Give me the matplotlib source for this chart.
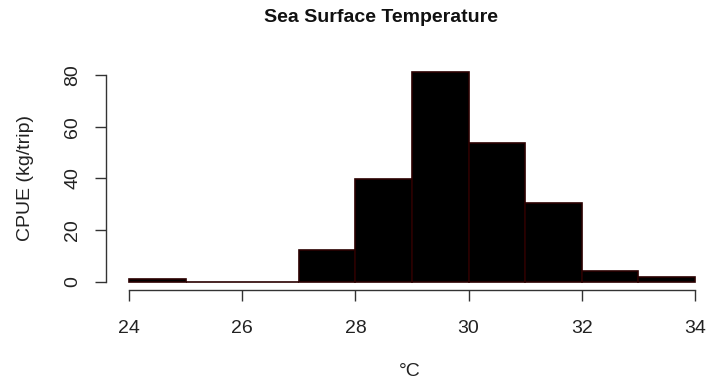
import numpy as np
import matplotlib
matplotlib.use("Agg")
import matplotlib.pyplot as plt

plt.rcParams['font.family'] = ['Liberation Sans', 'DejaVu Sans']

# histogram bins (deg C) and CPUE values
bin_edges = [24, 25, 26, 27, 28, 29, 30, 31, 32, 33, 34]
cpue = [1, 0, 0, 12.3, 39.8, 81, 53.7, 30.5, 4.2, 2]
x_ticks = [24, 26, 28, 30, 32, 34]
y_ticks = [0, 20, 40, 60, 80]

W, H = 706, 385
fig = plt.figure(figsize=(W / 100, H / 100), dpi=100)
# plot region in pixels: left 106, right 718, top 64, bottom 290
ax = fig.add_axes([106.4 / W, (H - 290.4) / H, 611.2 / W, 226.4 / H])

left = np.array(bin_edges[:-1])
widths = np.diff(bin_edges)
ax.bar(left, cpue, width=widths, align='edge', color='black',
       edgecolor='#2a0000', linewidth=1.2)

ax.set_xlim(23.6, 34.4)
ax.set_ylim(-3.24, 84.24)

for s in ['top', 'right']:
    ax.spines[s].set_visible(False)
ax.spines['bottom'].set_bounds(24, 34)
ax.spines['left'].set_bounds(0, 80)
for s in ['bottom', 'left']:
    ax.spines[s].set_color('#333333')
    ax.spines[s].set_linewidth(1.0)
ax.spines['bottom'].set_position(('outward', 0))

ax.set_xticks(x_ticks)
ax.set_yticks(y_ticks)
ax.tick_params(axis='x', length=8, width=1, color='#333333', pad=13,
               labelsize=14, labelcolor='#222222')
ax.tick_params(axis='y', length=8, width=1, color='#333333', pad=10,
               labelsize=14, labelcolor='#222222')
for lab in ax.get_yticklabels():
    lab.set_rotation(90)
    lab.set_va('center')

fig.text(381 / W, 1 - 18 / H, 'Sea Surface Temperature', ha='center',
         va='center', fontsize=14, fontweight='bold', color='#111111')
fig.text(410 / W, 1 - 372 / H, '°C', ha='center', va='center',
         fontsize=14, color='#222222')
fig.text(25 / W, 1 - 178 / H, 'CPUE (kg/trip)', ha='center', va='center',
         rotation=90, fontsize=14, color='#222222')

fig.savefig('out.png', dpi=100)
